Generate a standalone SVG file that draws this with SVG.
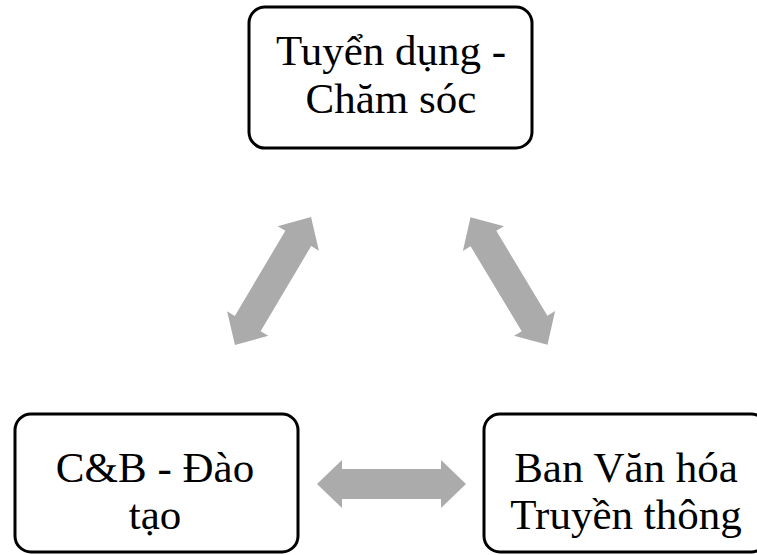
<svg xmlns="http://www.w3.org/2000/svg" width="757" height="555" viewBox="0 0 757 555">
<defs>
<style>
.box{fill:#fff;stroke:#000;stroke-width:3}
.arr{fill:#ABABAB}
</style>
<path id="dbl" d="M -74.5 0 L -49.5 -24 L -49.5 -15 L 49.5 -15 L 49.5 -24 L 74.5 0 L 49.5 24 L 49.5 15 L -49.5 15 L -49.5 24 Z"/>
</defs>
<rect width="757" height="555" fill="#fff"/>
<g id="connectors" class="arr">
<use href="#dbl" transform="translate(273 281) rotate(-59.3)"/>
<use href="#dbl" transform="translate(509 281) rotate(58.9)"/>
<use href="#dbl" transform="translate(391.5 484)"/>
</g>
<g font-family="Liberation Serif, DejaVu Serif, serif" font-size="43" text-anchor="middle" fill="#000">
<g id="n-tuyendung">
<rect class="box" x="249" y="7" width="283" height="141" rx="16"/>
<text x="391" y="65">Tuyển dụng -</text>
<text x="391" y="113">Chăm sóc</text>
</g>
<g id="n-cb">
<rect class="box" x="15" y="414" width="283" height="138" rx="16"/>
<text x="155" y="482">C&amp;B - Đào</text>
<text x="155" y="529">tạo</text>
</g>
<g id="n-vanhoa">
<rect class="box" x="484" y="414" width="283" height="138" rx="16"/>
<text x="626" y="482">Ban Văn hóa</text>
<text x="626" y="529">Truyền thông</text>
</g>
</g>
</svg>
